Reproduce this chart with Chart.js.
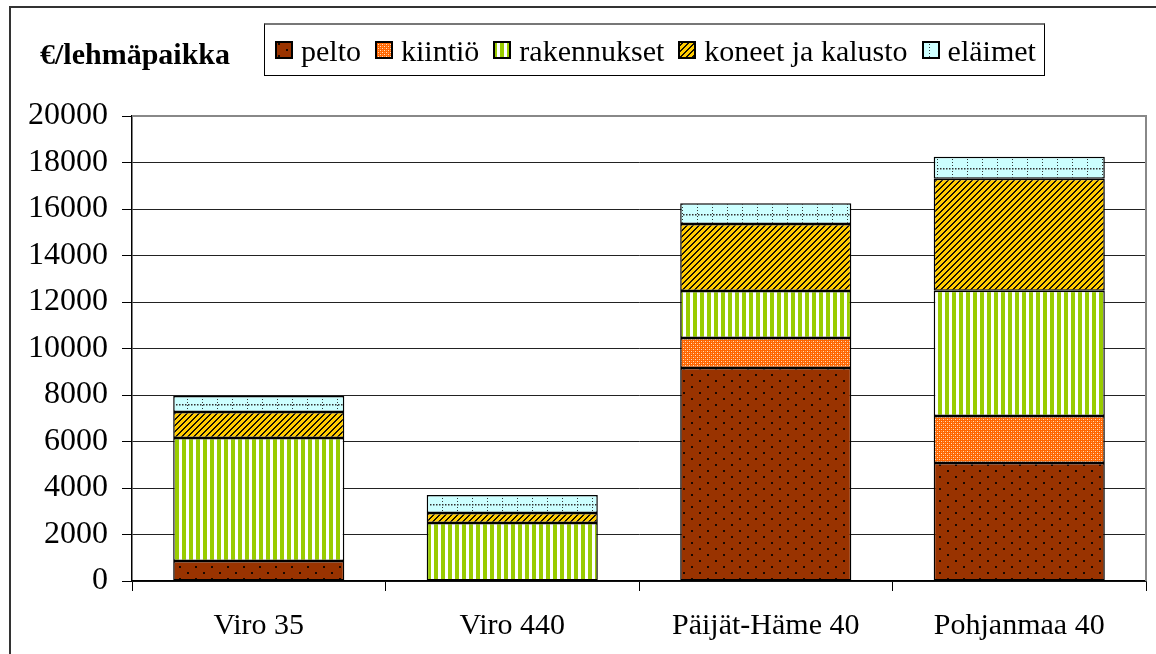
<!DOCTYPE html>
<html>
<head>
<meta charset="utf-8">
<script src="https://cdn.jsdelivr.net/npm/chart.js@4/dist/chart.umd.min.js"></script>
<style>
  html, body { margin: 0; padding: 0; background: #fff; }
  #wrap { position: relative; width: 1156px; height: 654px; overflow: hidden; }
  #frame { position: absolute; left: 9px; top: 6px; width: 1200px; height: 700px;
           border-left: 2px solid #333; border-top: 2px solid #333; }
  canvas#chart { position: absolute; left: 0; top: 0; }
  #title { position: absolute; left: 40px; top: 36px; font: bold 30px "Liberation Serif", "Times New Roman", serif;
           line-height: 36px; color: #000; white-space: nowrap; }
  #legend { position: absolute; left: 264px; top: 23px; width: 781px; height: 53px;
            border: 1px solid #000; border-top: 2px solid #777; background: #fff;
            display: flex; align-items: center; padding-left: 10px; box-sizing: border-box;
            font: 30px "Liberation Serif", "Times New Roman", serif; color: #000; white-space: nowrap; }
  .item { display: flex; align-items: center; margin-right: 14px; }
  .item canvas { width: 18px; height: 18px; margin-right: 8px; display: block; }
  .item span { line-height: 34px; position: relative; top: 1px; }
</style>
</head>
<body>
<div id="wrap">
  <div id="frame"></div>
  <canvas id="chart" width="1156" height="654"></canvas>
  <div id="title">€/lehmäpaikka</div>
  <div id="legend"></div>
</div>
<script>
const categories = ['Viro 35', 'Viro 440', 'Päijät-Häme 40', 'Pohjanmaa 40'];
const seriesNames = ['pelto', 'kiintiö', 'rakennukset', 'koneet ja kalusto', 'eläimet'];
const pelto       = [860, 0, 9160, 5080];
const kiintio     = [0, 0, 1290, 2020];
const rakennukset = [5290, 2495, 2020, 5380];
const koneet      = [1120, 430, 2880, 4820];
const elaimet     = [690, 775, 900, 950];
const yTicks = [0, 2000, 4000, 6000, 8000, 10000, 12000, 14000, 16000, 18000, 20000];

const FONT = '"Liberation Serif", "Times New Roman", serif';

function tile(w, h, draw) {
  const c = document.createElement('canvas');
  c.width = w; c.height = h;
  const g = c.getContext('2d');
  draw(g);
  return c;
}
const tiles = [
  tile(16, 12, g => { g.fillStyle = '#993300'; g.fillRect(0,0,16,12);
    g.fillStyle = '#1a0800'; g.fillRect(3,2,2,2); g.fillRect(11,8,2,2); }),
  tile(4, 4, g => { g.fillStyle = '#FF6600'; g.fillRect(0,0,4,4);
    g.fillStyle = '#FFE0C0'; g.fillRect(1,1,1,1); g.fillRect(3,3,1,1); g.fillStyle='#FF9955'; g.fillRect(3,1,1,1); g.fillRect(1,3,1,1); }),
  tile(7, 1, g => { g.fillStyle = '#FFFFFF'; g.fillRect(0,0,7,1);
    g.fillStyle = '#99CC00'; g.fillRect(0,0,4,1); }),
  tile(6, 6, g => { g.fillStyle = '#FFCC00'; g.fillRect(0,0,6,6);
    g.fillStyle = '#1a1200';
    for (let i = 0; i < 6; i++) { g.fillRect(i, 5 - i, 1, 1); g.fillRect((i + 1) % 6, 5 - i, 1, 1); } }),
  tile(15, 3, g => { g.fillStyle = '#CCFFFF'; g.fillRect(0,0,15,3);
    g.fillStyle = '#333'; g.fillRect(7,0,1,1); })
];
const ctx = document.getElementById('chart').getContext('2d');
const patterns = tiles.map(t => ctx.createPattern(t, 'repeat'));
const values = [pelto, kiintio, rakennukset, koneet, elaimet];

// legend
const legend = document.getElementById('legend');
seriesNames.forEach((name, i) => {
  const it = document.createElement('div'); it.className = 'item';
  const c = document.createElement('canvas'); c.width = 18; c.height = 18;
  const g = c.getContext('2d');
  g.fillStyle = g.createPattern(tiles[i], 'repeat'); g.fillRect(0,0,18,18);
  g.strokeStyle = '#000'; g.lineWidth = 2; g.strokeRect(1,1,16,16);
  const s = document.createElement('span'); s.textContent = name;
  it.appendChild(c); it.appendChild(s); legend.appendChild(it);
});

const extras = {
  id: 'extras',
  afterDatasetsDraw(chart) {
    const g = chart.ctx;
    const meta = chart.getDatasetMeta(4);
    g.save();
    g.fillStyle = '#333';
    meta.data.forEach(bar => {
      const p = bar.getProps(['x','y','base','width'], true);
      const ym = Math.round((p.y + p.base) / 2);
      for (let x = Math.round(p.x - p.width/2) + 3; x < p.x + p.width/2 - 2; x += 3) g.fillRect(x, ym, 1.5, 1.5);
    });
    g.restore();
  },
  beforeDatasetsDraw(chart) {
    const a = chart.chartArea, g = chart.ctx;
    g.save();
    g.strokeStyle = '#888'; g.lineWidth = 2;
    g.beginPath(); g.moveTo(a.left, a.top); g.lineTo(a.right, a.top); g.lineTo(a.right, a.bottom); g.stroke();
    g.restore();
  }
};

new Chart(ctx, {
  type: 'bar',
  data: {
    labels: categories,
    datasets: seriesNames.map((n, i) => ({
      label: n, data: values[i], backgroundColor: patterns[i],
      borderColor: '#000', borderWidth: 1.5, borderSkipped: false,
      barPercentage: 0.675, categoryPercentage: 1
    }))
  },
  options: {
    responsive: false, animation: false, devicePixelRatio: 1,
    layout: { padding: { top: 116, right: 10, left: 0, bottom: 0 } },
    plugins: { legend: { display: false }, tooltip: { enabled: false } },
    scales: {
      x: {
        stacked: true,
        grid: { offset: true, drawOnChartArea: false, drawTicks: true, tickLength: 10, color: '#000', lineWidth: 1 },
        border: { display: true, color: '#000', width: 1.5 },
        ticks: { font: { family: FONT, size: 30 }, color: '#000', padding: 17, maxRotation: 0 },
        afterFit(s) { s.height = 73; }
      },
      y: {
        stacked: true, min: 0, max: 20000,
        afterBuildTicks(s) { s.ticks = yTicks.map(v => ({ value: v })); },
        grid: { color: c => (c.tick && c.tick.value === 20000) ? '#888' : '#222', lineWidth: 1, tickLength: 10, drawTicks: true, tickColor: '#000' },
        border: { display: true, color: '#000', width: 1.5 },
        ticks: { font: { family: FONT, size: 32 }, color: '#000', padding: 14, callback: v => String(v) },
        afterFit(s) { s.width = 132; }
      }
    }
  },
  plugins: [extras]
});
</script>
</body>
</html>
